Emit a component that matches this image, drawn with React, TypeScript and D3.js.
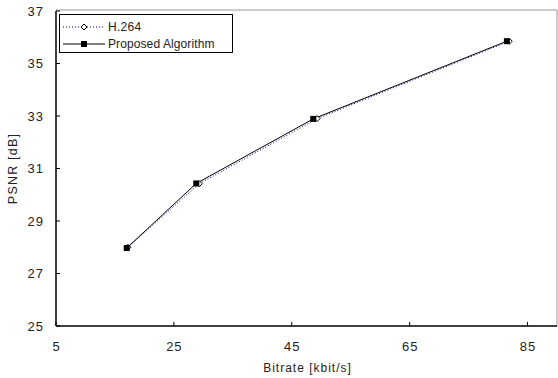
import React from "react";
import * as d3 from "d3";

const bitrateH264 = [17.2, 29.3, 49.3, 81.9];
const psnrH264 = [28.0, 30.42, 32.9, 35.85];
const bitrateProposed = [17.0, 28.8, 48.65, 81.5];
const psnrProposed = [27.97, 30.43, 32.89, 35.85];
const xTicks = [5, 25, 45, 65, 85];
const yTicks = [25, 27, 29, 31, 33, 35, 37];
const seriesNames = ["H.264", "Proposed Algorithm"];

const W = 558;
const H = 378;
const margin = { left: 56, right: 1, top: 11, bottom: 52 };
const font = "'Liberation Sans', Arial, sans-serif";

const App = () => {
  const x = d3.scaleLinear().domain([5, 90]).range([margin.left, W - margin.right]);
  const y = d3.scaleLinear().domain([25, 37]).range([H - margin.bottom, margin.top]);

  const line = d3
    .line<[number, number]>()
    .x((d) => x(d[0]))
    .y((d) => y(d[1]));

  const h264 = bitrateH264.map((b, i) => [b, psnrH264[i]] as [number, number]);
  const prop = bitrateProposed.map((b, i) => [b, psnrProposed[i]] as [number, number]);

  const bottom = y(25);
  const diamond = (cx: number, cy: number, r = 3) =>
    `M${cx},${cy - r}L${cx + r},${cy}L${cx},${cy + r}L${cx - r},${cy}Z`;

  return (
    <svg
      width={W}
      height={H}
      style={{ position: "absolute", left: 0, top: 0, background: "#fff" }}
      fontFamily={font}
    >
      {/* frame */}
      <path
        d={`M${x(5)},${y(37) - 1}H${x(90)}V${bottom}`}
        fill="none"
        stroke="#999"
        strokeWidth={1}
      />
      {/* axes */}
      <line x1={x(5)} x2={x(90)} y1={bottom} y2={bottom} stroke="#000" strokeWidth={1.5} />
      <line x1={x(5)} x2={x(5)} y1={y(37)} y2={bottom} stroke="#000" strokeWidth={1.5} />
      {yTicks.map((t) => (
        <g key={"y" + t}>
          <line x1={x(5)} x2={x(5) + 4} y1={y(t)} y2={y(t)} stroke="#000" />
          <text
            x={x(5) - 12}
            y={y(t)}
            dy="0.35em"
            textAnchor="end"
            fontSize={13}
            letterSpacing={1}
            fill="#222"
          >
            {t}
          </text>
        </g>
      ))}
      {xTicks.map((t) => (
        <g key={"x" + t}>
          <line x1={x(t)} x2={x(t)} y1={bottom} y2={bottom - 4} stroke="#000" />
          <text
            x={x(t) + 0.5}
            y={bottom + 20}
            dy="0.35em"
            textAnchor="middle"
            fontSize={13}
            letterSpacing={1}
            fill="#222"
          >
            {t}
          </text>
        </g>
      ))}
      <text
        x={x(47.5) + 1}
        y={368}
        dy="0.35em"
        textAnchor="middle"
        fontSize={12}
        letterSpacing={1}
        fill="#222"
      >
        Bitrate [kbit/s]
      </text>
      <text
        transform={`translate(13,${y(31)}) rotate(-90)`}
        dy="0.35em"
        textAnchor="middle"
        fontSize={12.5}
        letterSpacing={1.2}
        fill="#222"
      >
        PSNR [dB]
      </text>

      {/* series */}
      <path d={line(prop) || ""} fill="none" stroke="#000" strokeWidth={1} />
      <path d={line(h264) || ""} fill="none" stroke="#000080" strokeWidth={1} strokeDasharray="1,2" />
      {h264.map((d, i) => (
        <path key={"d" + i} d={diamond(x(d[0]), y(d[1]))} fill="#fff" stroke="#000" strokeWidth={1} />
      ))}
      {prop.map((d, i) => (
        <rect key={"s" + i} x={x(d[0]) - 3} y={y(d[1]) - 3} width={6} height={6} fill="#000" />
      ))}

      {/* legend */}
      <rect x={59.5} y={14.5} width={173} height={38} fill="#fff" stroke="#000" strokeWidth={1} />
      <line x1={63} x2={105} y1={27} y2={27} stroke="#000080" strokeDasharray="1,2" />
      <path d={diamond(84, 27)} fill="#fff" stroke="#000" />
      <text x={108} y={27} dy="0.35em" fontSize={12} letterSpacing={0.3} fill="#222">
        {seriesNames[0]}
      </text>
      <line x1={63} x2={105} y1={44} y2={44} stroke="#000" />
      <rect x={81} y={41} width={6} height={6} fill="#000" />
      <text x={108} y={44} dy="0.35em" fontSize={12} letterSpacing={0.1} fill="#222">
        {seriesNames[1]}
      </text>
    </svg>
  );
};

export default App;
